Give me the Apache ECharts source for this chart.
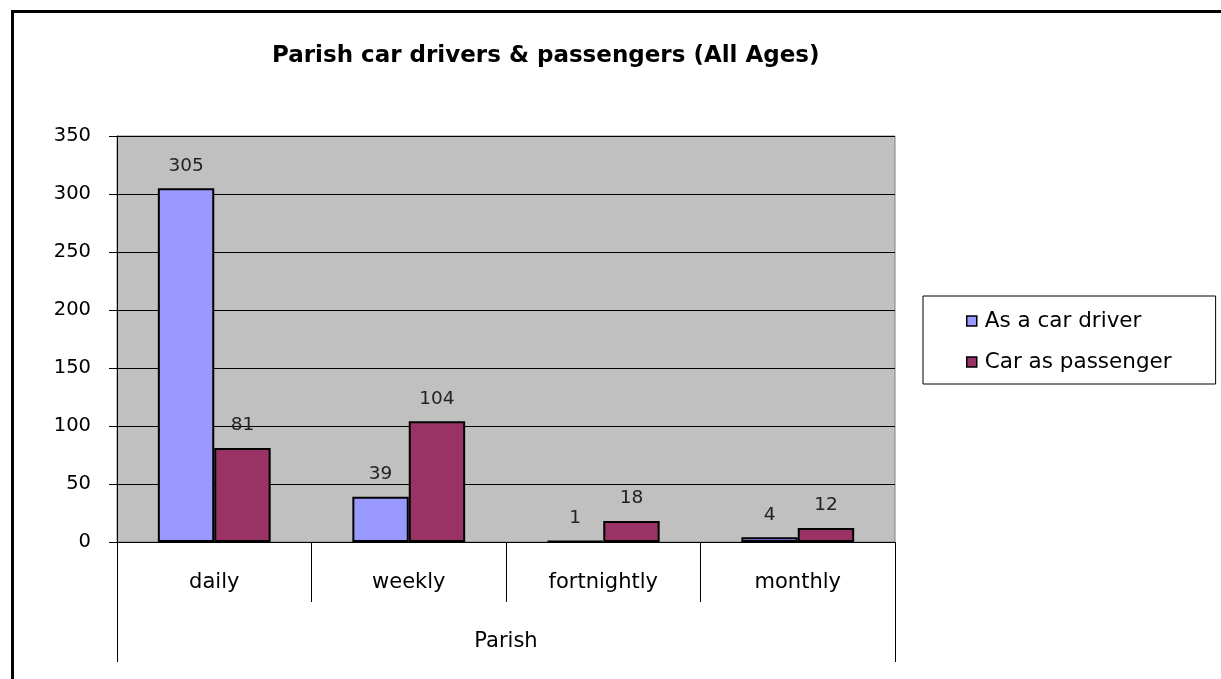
<!DOCTYPE html>
<html>
<head>
<meta charset="utf-8">
<script src="https://cdn.jsdelivr.net/npm/echarts@6/dist/echarts.min.js"></script>
<style>
html,body{margin:0;padding:0;background:#fff;overflow:hidden;}
#chart{position:absolute;left:0;top:0;width:1221px;height:679px;}
#frame{position:absolute;left:11px;top:10px;width:2000px;height:2000px;border-left:3px solid #000;border-top:3px solid #000;pointer-events:none;}
</style>
</head>
<body>
<div id="chart"></div>
<div id="frame"></div>
<script>
var categories = ['daily', 'weekly', 'fortnightly', 'monthly'];
var groupLabels = ['Parish'];
var driverValues = [305, 39, 1, 4];
var passengerValues = [81, 104, 18, 12];
var seriesNames = ['As a car driver', 'Car as passenger'];
var titleText = 'Parish car drivers & passengers (All Ages)';

var FONT = 'DejaVu Sans';
var chart = echarts.init(document.getElementById('chart'), null, {renderer: 'canvas'});
chart.setOption({
  animation: false,
  backgroundColor: 'transparent',
  textStyle: {fontFamily: FONT},
  title: {
    text: titleText,
    left: 267, top: 40,
    textStyle: {fontFamily: FONT, fontSize: 23, fontWeight: 'bold', color: '#000'}
  },
  legend: {
    orient: 'vertical',
    left: 923, top: 296,
    padding: [14, 44, 11, 43],
    itemGap: 19,
    itemWidth: 10, itemHeight: 10,
    icon: 'rect',
    borderColor: '#000', borderWidth: 1,
    backgroundColor: '#fff',
    itemStyle: {borderColor: '#000', borderWidth: 1.5},
    textStyle: {fontFamily: FONT, fontSize: 21.5, color: '#000', padding: [0, 0, 0, 3]},
    data: seriesNames
  },
  grid: {
    left: 117, top: 136, right: 326, bottom: 137,
    show: true, backgroundColor: '#C0C0C0', borderColor: '#808080', borderWidth: 1,
    containLabel: false
  },
  xAxis: [{
    type: 'category',
    data: categories,
    position: 'bottom',
    axisLine: {show: true, lineStyle: {color: '#000', width: 1}},
    axisTick: {show: true, length: 60, interval: 0, lineStyle: {color: '#000', width: 1}},
    axisLabel: {fontFamily: FONT, fontSize: 21, color: '#000', margin: 30, interval: 0}
  }, {
    type: 'category',
    data: groupLabels,
    position: 'bottom',
    offset: 0,
    axisLine: {show: false},
    axisTick: {show: true, length: 120, lineStyle: {color: '#000', width: 1}},
    axisLabel: {fontFamily: FONT, fontSize: 21, color: '#000', margin: 89}
  }],
  yAxis: {
    type: 'value',
    min: 0, max: 350, interval: 50,
    axisLine: {show: true, lineStyle: {color: '#000', width: 1}},
    axisTick: {show: true, length: 8, lineStyle: {color: '#000', width: 1}},
    axisLabel: {fontFamily: FONT, fontSize: 19.5, color: '#000', margin: 26},
    splitLine: {show: true, lineStyle: {color: '#000', width: 1}}
  },
  series: [{
    name: seriesNames[0],
    type: 'bar',
    xAxisIndex: 0,
    data: driverValues,
    barGap: '0%',
    barCategoryGap: '42%',
    itemStyle: {color: '#9999FF', borderColor: '#000', borderWidth: 2},
    label: {show: true, position: 'top', distance: 13, fontFamily: FONT, fontSize: 18.5, color: '#222'}
  }, {
    name: seriesNames[1],
    type: 'bar',
    xAxisIndex: 0,
    data: passengerValues,
    barGap: '0%',
    barCategoryGap: '42%',
    itemStyle: {color: '#993366', borderColor: '#000', borderWidth: 2},
    label: {show: true, position: 'top', distance: 13, fontFamily: FONT, fontSize: 18.5, color: '#222'}
  }]
});
</script>
</body>
</html>
